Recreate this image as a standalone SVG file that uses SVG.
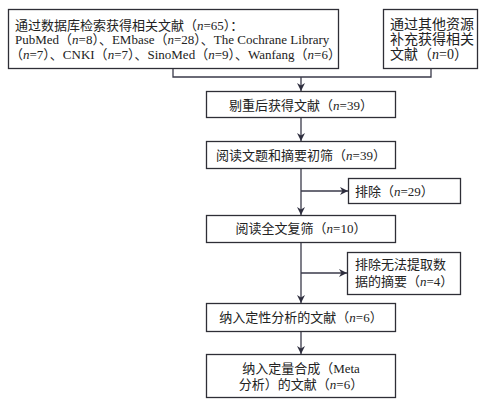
<svg xmlns="http://www.w3.org/2000/svg" width="484" height="403" viewBox="0 0 484 403">
<style>
.box{fill:#fff;stroke:#2e2e36;stroke-width:1.3}
.t{font-family:"Liberation Serif","Noto Sans CJK SC",serif;font-size:13px;fill:#222}
.big{font-size:14px}
.c{text-anchor:middle}
.i{font-style:italic}
.ln{fill:none;stroke:#3a3a4a;stroke-width:1.3}
</style>
<defs>
<marker id="ah" viewBox="0 0 10 10" refX="10" refY="5" markerWidth="8" markerHeight="8" markerUnits="userSpaceOnUse" orient="auto">
<path d="M0,0 L10,5 L0,10 L3,5 Z" fill="#2e2e3e"/>
</marker>
</defs>
<g id="connectors">
<path class="ln" d="M173,68 V77 H431 V68"/>
<path class="ln" d="M301,77 V91" marker-end="url(#ah)"/>
<path class="ln" d="M301,117 V141" marker-end="url(#ah)"/>
<path class="ln" d="M301,168 V215" marker-end="url(#ah)"/>
<path class="ln" d="M301,191 H348" marker-end="url(#ah)"/>
<path class="ln" d="M301,242 V303" marker-end="url(#ah)"/>
<path class="ln" d="M301,273 H347" marker-end="url(#ah)"/>
<path class="ln" d="M301,331 V354" marker-end="url(#ah)"/>
</g>
<g id="n1">
<rect class="box" x="8.5" y="9.5" width="330" height="59"/>
<text class="t" x="15" y="30">通过数据库检索获得相关文献（<tspan class="i">n</tspan>=65）：</text>
<text class="t" x="15" y="44">PubMed（<tspan class="i">n</tspan>=8）、EMbase（<tspan class="i">n</tspan>=28）、The Cochrane Library</text>
<text class="t" x="10" y="59">（<tspan class="i">n</tspan>=7）、CNKI（<tspan class="i">n</tspan>=7）、SinoMed（<tspan class="i">n</tspan>=9）、Wanfang（<tspan class="i">n</tspan>=6）</text>
</g>
<g id="n2">
<rect class="box" x="383.5" y="9.5" width="94" height="59"/>
<text class="t big" x="390" y="28.5">通过其他资源</text>
<text class="t big" x="390" y="43.5">补充获得相关</text>
<text class="t big" x="390" y="58.5">文献（<tspan class="i">n</tspan>=0）</text>
</g>
<g id="n3">
<rect class="box" x="206.5" y="91.5" width="189" height="26"/>
<text class="t c" x="301" y="109.5">剔重后获得文献（<tspan class="i">n</tspan>=39）</text>
</g>
<g id="n4">
<rect class="box" x="206.5" y="141.5" width="189" height="27"/>
<text class="t c" x="301" y="160">阅读文题和摘要初筛（<tspan class="i">n</tspan>=39）</text>
</g>
<g id="n5">
<rect class="box" x="348.5" y="178.5" width="112" height="25"/>
<text class="t" x="355" y="196">排除（<tspan class="i">n</tspan>=29）</text>
</g>
<g id="n6">
<rect class="box" x="206.5" y="215.5" width="189" height="27"/>
<text class="t c" x="301" y="233">阅读全文复筛（<tspan class="i">n</tspan>=10）</text>
</g>
<g id="n7">
<rect class="box" x="347.5" y="252.5" width="113" height="42"/>
<text class="t" x="355" y="269">排除无法提取数</text>
<text class="t" x="355" y="286">据的摘要（<tspan class="i">n</tspan>=4）</text>
</g>
<g id="n8">
<rect class="box" x="206.5" y="303.5" width="189" height="28"/>
<text class="t c" x="301" y="322">纳入定性分析的文献（<tspan class="i">n</tspan>=6）</text>
</g>
<g id="n9">
<rect class="box" x="206.5" y="354.5" width="189" height="43"/>
<text class="t c" x="301" y="373">纳入定量合成（Meta</text>
<text class="t c" x="301" y="389">分析）的文献（<tspan class="i">n</tspan>=6）</text>
</g>
</svg>
